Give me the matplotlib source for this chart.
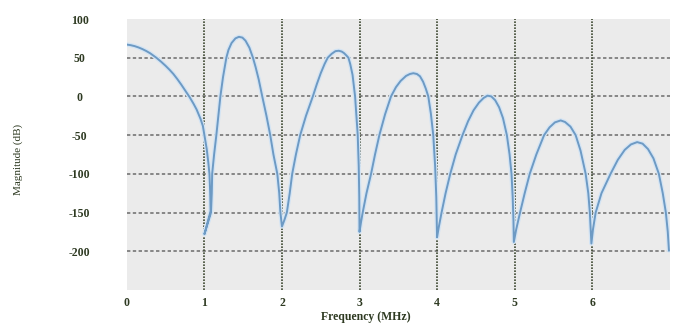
import matplotlib
matplotlib.use("Agg")
import matplotlib.pyplot as plt

# Frequency (MHz) and magnitude (dB)
freq_mhz = [0.0, 0.05, 0.1, 0.15, 0.2, 0.25, 0.3, 0.38, 0.44, 0.5, 0.55, 0.6, 0.65, 0.7, 0.75, 0.81, 0.86, 0.9, 0.95, 0.98,
            1.0, 1.03, 1.05, 1.065, 1.075, 1.08, 1.0, 1.085,
            1.095, 1.10, 1.125, 1.154, 1.18, 1.206, 1.24, 1.283, 1.31, 1.35, 1.40, 1.445, 1.49, 1.53, 1.58, 1.626,
            1.66, 1.70, 1.746, 1.80, 1.849, 1.89, 1.92, 1.94, 1.965, 1.98, 2.0,
            2.03, 2.063, 2.10, 2.132, 2.18, 2.235, 2.31, 2.398, 2.45, 2.50, 2.55, 2.59, 2.64, 2.69, 2.733, 2.77,
            2.80, 2.83, 2.857, 2.88, 2.91, 2.943, 2.96, 2.977, 2.99, 2.997, 3.0,
            3.02, 3.041, 3.09, 3.149, 3.20, 3.256, 3.33, 3.406, 3.47, 3.53, 3.60, 3.65, 3.694, 3.74, 3.78, 3.82,
            3.855, 3.887, 3.92, 3.951, 3.975, 3.99, 4.0,
            4.02, 4.058, 4.11, 4.17, 4.24, 4.328, 4.40, 4.47, 4.54, 4.60, 4.65, 4.70, 4.75, 4.80, 4.85, 4.9,
            4.935, 4.96, 4.975, 4.985, 4.99,
            5.02, 5.07, 5.13, 5.195, 5.28, 5.38, 5.45, 5.52, 5.594, 5.65, 5.72, 5.787, 5.85, 5.916, 5.95, 5.97, 5.99,
            6.01, 6.045, 6.12, 6.237, 6.33, 6.42, 6.50, 6.58, 6.65, 6.72, 6.79, 6.86, 6.91, 6.95, 6.975, 6.99]
magnitude_db = [67, 66.2, 65, 63.3, 61.2, 58.7, 55.8, 50, 45, 39.5, 34.5, 29, 22.5, 15.5, 8, -1, -9.5, -17, -29, -38,
                -50, -68, -85, -100, -125, -148, -178, -150,
                -125, -100, -75, -50, -25, 0, 25, 50, 60, 69, 75, 77, 76, 72, 63, 50,
                38, 22, 0, -25, -50, -75, -90, -100, -125, -150, -168,
                -160, -150, -125, -100, -75, -50, -25, 0, 16, 30, 42, 50, 55, 58.5, 59, 58,
                56, 53, 50, 42, 28, 0, -25, -50, -90, -130, -175,
                -162, -150, -125, -100, -75, -50, -23, 0, 12, 20, 26.5, 29, 30, 29, 26, 19,
                10, 0, -22, -50, -90, -130, -182,
                -170, -150, -125, -100, -75, -50, -32, -18, -8, -2, 1, 0, -5, -14, -28, -50,
                -75, -100, -130, -160, -188,
                -172, -150, -125, -100, -75, -50, -40, -33.5, -31, -33, -39, -50, -70, -100, -125, -150, -190,
                -172, -150, -125, -100, -82, -69, -62, -59, -61, -68, -80, -100, -125, -150, -175, -199]

x_ticks = [0, 1, 2, 3, 4, 5, 6]
x_grid = [1, 2, 3, 4, 5, 6]
y_ticks = [100, 50, 0, -50, -100, -150, -200]
y_grid = [50, 0, -50, -100, -150, -200]

label_color = "#2e3a22"
serif = ["Liberation Serif", "DejaVu Serif"]

fig = plt.figure(figsize=(6.82, 3.28), dpi=100)
ax = fig.add_axes([0.186, 0.116, 0.796, 0.826])
ax.set_facecolor("#ebebeb")
for s in ax.spines.values():
    s.set_visible(False)

ax.set_xlim(0, 7)
ax.set_ylim(-250, 100)

for yv in y_grid:
    ax.axhline(yv, color="#6a6a6a", lw=1.1, ls=(0, (2.2, 1.6)), zorder=1)
for xv in x_grid:
    ax.axvline(xv, color="#3f4a33", lw=1.2, ls=(0, (1, 0.8)), zorder=1)

ax.plot(freq_mhz, magnitude_db, color="#d3e4f4", lw=3.2, zorder=2,
        solid_joinstyle="round", solid_capstyle="round")
ax.plot(freq_mhz, magnitude_db, color="#6d9ac4", lw=1.4, zorder=3, solid_joinstyle="round")

ax.set_xticks(x_ticks)
ax.set_xticklabels([str(v) for v in x_ticks], fontfamily=serif, fontweight="bold",
                   fontsize=8.5, color=label_color)
ax.set_yticks(y_ticks)
ax.set_yticklabels([str(v) for v in y_ticks], fontfamily=serif, fontweight="bold",
                   fontsize=8.5, color=label_color, ha="center")
ax.tick_params(axis="y", length=0, pad=34)
ax.tick_params(axis="x", length=0, pad=5)

fig.text(0.537, 0.015, "Frequency (MHz)", ha="center", va="bottom", fontfamily=serif,
         fontweight="bold", fontsize=8.5, color=label_color)
fig.text(0.027, 0.515, "Magnitude (dB)", ha="center", va="center", rotation=90,
         fontfamily=serif, fontsize=8, color=label_color)

fig.savefig("out.png", dpi=100)
